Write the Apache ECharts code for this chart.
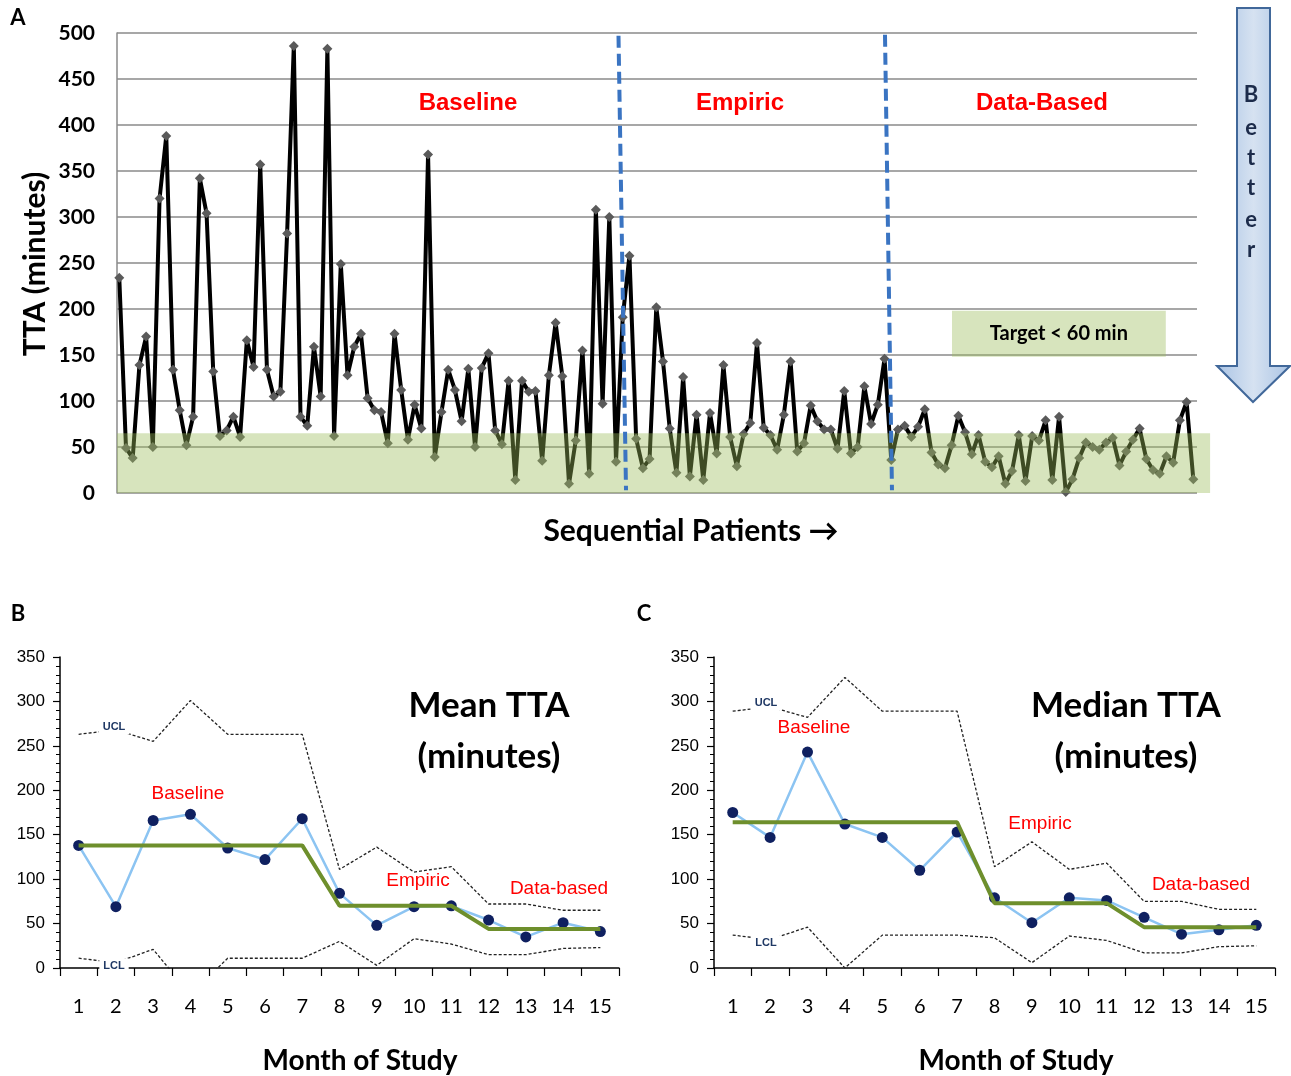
<!DOCTYPE html>
<html><head><meta charset="utf-8">
<script src="https://cdn.jsdelivr.net/npm/echarts@6/dist/echarts.min.js"></script>
<style>html,body{margin:0;padding:0;background:#fff}#c{width:1291px;height:1076px}</style>
</head><body><div id="c"></div>
<script>
// ---- Panel A: time to antibiotics (TTA) per sequential patient ----
const ttaMinutes = [
  234, 49, 38, 139, 170, 50, 320, 388, 134, 90,
  52, 83, 342, 304, 132, 62, 68, 83, 61, 166,
  137, 357, 134, 105, 110, 282, 486, 83, 73, 159,
  105, 483, 62, 249, 128, 159, 173, 103, 90, 88,
  54, 173, 112, 58, 96, 70, 368, 39, 88, 134,
  112, 78, 135, 50, 136, 152, 68, 53, 122, 14,
  122, 110, 111, 35, 128, 185, 127, 10, 57, 155,
  21, 308, 97, 300, 34, 191, 258, 59, 27, 37,
  202, 143, 70, 22, 126, 18, 85, 14, 87, 43,
  139, 61, 29, 64, 76, 163, 71, 63, 47, 85,
  143, 45, 54, 95, 78, 69, 69, 48, 111, 43,
  50, 116, 75, 96, 146, 36, 69, 73, 61, 72,
  91, 44, 31, 27, 52, 84, 66, 42, 63, 34,
  28, 40, 10, 24, 63, 13, 62, 57, 79, 14,
  83, 1, 15, 38, 55, 50, 47, 55, 60, 30,
  45, 58, 70, 37, 25, 21, 40, 33, 79, 99, 15
];
const phaseNames = ['Baseline', 'Empiric', 'Data-Based'];
const targetText = 'Target < 60 min';
const betterLetters = ['B', 'e', 't', 't', 'e', 'r'];

// ---- Panels B & C: monthly control charts ----
const months = ['1','2','3','4','5','6','7','8','9','10','11','12','13','14','15'];
const meanTTA     = [138, 69, 166, 173, 135, 122, 168, 84, 48, 69, 70, 54, 35, 51, 41];
const meanCenter  = [138, 138, 138, 138, 138, 138, 138, 70, 70, 70, 70, 44, 44, 44, 44];
const meanUCL     = [263, 268, 255, 301, 263, 263, 263, 111, 136, 108, 114, 72, 72, 65, 65];
const meanLCL     = [11, 6, 21, -30, 11, 11, 11, 30, 3, 33, 27, 15, 15, 22, 23];
const medianTTA    = [175, 147, 243, 162, 147, 110, 153, 79, 51, 79, 76, 57, 38, 43, 48];
const medianCenter = [164, 164, 164, 164, 164, 164, 164, 73, 73, 73, 73, 46, 46, 46, 46];
const medianUCL    = [289, 294, 282, 327, 289, 289, 289, 114, 142, 111, 118, 75, 75, 66, 66];
const medianLCL    = [37, 32, 46, 0, 37, 37, 37, 34, 6, 36, 31, 17, 17, 24, 25];
const subPhaseNames = ['Baseline', 'Empiric', 'Data-based'];

const chart = echarts.init(document.getElementById('c'));

function ctrlAxisY(i) {
  return {
    gridIndex: i, type: 'value', min: 0, max: 350, interval: 50,
    axisLine: { show: true, lineStyle: { color: '#000', width: 1.5 } },
    axisTick: { show: true, length: 7, lineStyle: { color: '#000', width: 1.2 } },
    minorTick: { show: true, splitNumber: 5, length: 4, lineStyle: { color: '#000', width: 1 } },
    splitLine: { show: false },
    axisLabel: { fontSize: 17, color: '#000', fontFamily: 'Liberation Sans', margin: 15 }
  };
}
function ctrlAxisX(i) {
  return {
    gridIndex: i, type: 'category', data: months, boundaryGap: true,
    axisLine: { show: true, lineStyle: { color: '#000', width: 1.5 } },
    axisTick: { show: true, length: 8, lineStyle: { color: '#000', width: 1.2 } },
    axisLabel: { fontSize: 20, color: '#000', fontFamily: 'Lato', margin: 29 }
  };
}
function ctrlSeries(i, vals, center, ucl, lcl) {
  const limitStyle = { color: '#222', width: 1.3, type: [3, 2] };
  return [
    { type: 'line', xAxisIndex: i, yAxisIndex: i, data: ucl, showSymbol: false, symbol: 'none', lineStyle: limitStyle, z: 2, silent: true },
    { type: 'line', xAxisIndex: i, yAxisIndex: i, data: lcl, showSymbol: false, symbol: 'none', lineStyle: limitStyle, z: 2, silent: true },
    { type: 'line', xAxisIndex: i, yAxisIndex: i, data: vals, symbol: 'circle', symbolSize: 11,
      lineStyle: { color: '#8cc4f2', width: 2.5 }, itemStyle: { color: '#0f2060' }, z: 3 },
    { type: 'line', xAxisIndex: i, yAxisIndex: i, data: center, symbol: 'none',
      lineStyle: { color: '#6e8f2c', width: 4 }, z: 4 }
  ];
}

const option = {
  animation: false,
  backgroundColor: '#fff',
  grid: [
    { left: 117, top: 33, width: 1080, height: 460 },
    { left: 60, top: 657, width: 559, height: 311 },
    { left: 714, top: 657, width: 561, height: 311 }
  ],
  xAxis: [
    { gridIndex: 0, type: 'value', min: 0.66, max: 161.55,
      axisLine: { show: false }, axisTick: { show: false }, axisLabel: { show: false }, splitLine: { show: false } },
    ctrlAxisX(1), ctrlAxisX(2)
  ],
  yAxis: [
    { gridIndex: 0, type: 'value', min: 0, max: 500, interval: 50,
      axisLine: { show: true, lineStyle: { color: '#8a8a8a', width: 1.5 } },
      axisTick: { show: false },
      splitLine: { show: true, lineStyle: { color: '#8a8a8a', width: 1.5 } },
      axisLabel: { fontSize: 21, fontWeight: 'bold', color: '#000', fontFamily: 'Lato', margin: 22 } },
    ctrlAxisY(1), ctrlAxisY(2)
  ],
  series: [
    { type: 'line', xAxisIndex: 0, yAxisIndex: 0,
      data: ttaMinutes.map((v, i) => [i + 1, v]),
      symbol: 'diamond', symbolSize: 10,
      lineStyle: { color: '#000', width: 4 },
      itemStyle: { color: '#5a5a5a' }, z: 2 }
  ].concat(ctrlSeries(1, meanTTA, meanCenter, meanUCL, meanLCL))
   .concat(ctrlSeries(2, medianTTA, medianCenter, medianUCL, medianLCL))
};
chart.setOption(option);

const px = (g, x, y) => chart.convertToPixel({ gridIndex: g }, [x, y]);
function txt(text, x, y, font, color, extra) {
  return {
    type: 'text', z: 20, x: x, y: y,
    style: Object.assign({ text: text, font: font, fill: color || '#000', align: 'center', verticalAlign: 'middle' }, extra || {})
  };
}

const g = [];
// target band (drawn over the series, semi-transparent)
const b0 = px(0, 0.66, 65), b1 = px(0, 163.5, 0);
g.push({ type: 'rect', z: 10, shape: { x: b0[0], y: b0[1], width: b1[0] - b0[0], height: b1[1] - b0[1] },
  style: { fill: 'rgba(155,187,89,0.4)' } });
// target box
const t0 = px(0, 125.05, 198), t1 = px(0, 156.9, 148);
g.push({ type: 'rect', z: 10, shape: { x: t0[0], y: t0[1], width: t1[0] - t0[0], height: t1[1] - t0[1] },
  style: { fill: 'rgba(155,187,89,0.4)' } });
g.push(txt(targetText, (t0[0] + t1[0]) / 2, (t0[1] + t1[1]) / 2, 'bold 20px Lato', '#000'));
// phase boundaries (dashed blue)
[[75.37, 497, 76.49, 3], [115.07, 498, 116.11, 3]].forEach(d => {
  const p = px(0, d[0], d[1]), q = px(0, d[2], d[3]);
  g.push({ type: 'line', z: 12, shape: { x1: p[0], y1: p[1], x2: q[0], y2: q[1] },
    style: { stroke: '#3a74c2', lineWidth: 4, lineDash: [12, 6] } });
});
// phase labels
[[468, 103], [740, 103], [1042, 103]].forEach((p, i) =>
  g.push(txt(phaseNames[i], p[0], p[1], 'bold 24px "Liberation Sans", Arial', '#ff0000')));
// axis titles panel A
const yTitle = txt('TTA (minutes)', 35, 264, 'bold 30px Lato', '#000');
yTitle.rotation = Math.PI / 2;
g.push(yTitle);
g.push(txt('Sequential Patients \u2192', 691, 531, 'bold 30px Lato', '#000'));
// panel letters
g.push(txt('A', 18, 18, 'bold 22px Lato', '#000'));
g.push(txt('B', 18, 614, 'bold 22px Lato', '#000'));
g.push(txt('C', 644, 614, 'bold 22px Lato', '#000'));
// Better arrow
g.push({ type: 'polygon', z: 5,
  shape: { points: [[1237, 8], [1270, 8], [1270, 366], [1290, 366], [1253, 402], [1217, 366], [1237, 366]] },
  style: { fill: new echarts.graphic.LinearGradient(0, 0, 1, 0, [
      { offset: 0, color: '#a9c3e4' }, { offset: 0.5, color: '#d6e2f1' }, { offset: 1, color: '#a9c3e4' }]),
    stroke: '#41689a', lineWidth: 2 } });
[95, 128, 158, 188, 220, 250].forEach((y, i) =>
  g.push(txt(betterLetters[i], 1251, y, 'bold 22px Lato', '#1c2b4a')));
// panel B/C titles
g.push(txt('Mean TTA', 489, 706, 'bold 35px Lato', '#000'));
g.push(txt('(minutes)', 489, 757, 'bold 35px Lato', '#000'));
g.push(txt('Median TTA', 1126, 706, 'bold 35px Lato', '#000'));
g.push(txt('(minutes)', 1126, 757, 'bold 35px Lato', '#000'));
g.push(txt('Month of Study', 360, 1061, 'bold 28px Lato', '#000'));
g.push(txt('Month of Study', 1016, 1061, 'bold 28px Lato', '#000'));
// phase labels B/C
const subFont = '19px "Liberation Sans", Arial';
[[188, 794], [418, 881], [559, 889]].forEach((p, i) => g.push(txt(subPhaseNames[i], p[0], p[1], subFont, '#ff0000')));
[[814, 728], [1040, 824], [1201, 885]].forEach((p, i) => g.push(txt(subPhaseNames[i], p[0], p[1], subFont, '#ff0000')));
// UCL / LCL labels
const limFont = 'bold 11px "Liberation Sans", Arial';
const limExtra = { backgroundColor: '#fff', padding: [2, 4] };
g.push(txt('UCL', 114, 727, limFont, '#1f3864', limExtra));
g.push(txt('LCL', 114, 966, limFont, '#1f3864', limExtra));
g.push(txt('UCL', 766, 703, limFont, '#1f3864', limExtra));
g.push(txt('LCL', 766, 943, limFont, '#1f3864', limExtra));

chart.setOption({ graphic: { elements: g } });
</script>
</body></html>
